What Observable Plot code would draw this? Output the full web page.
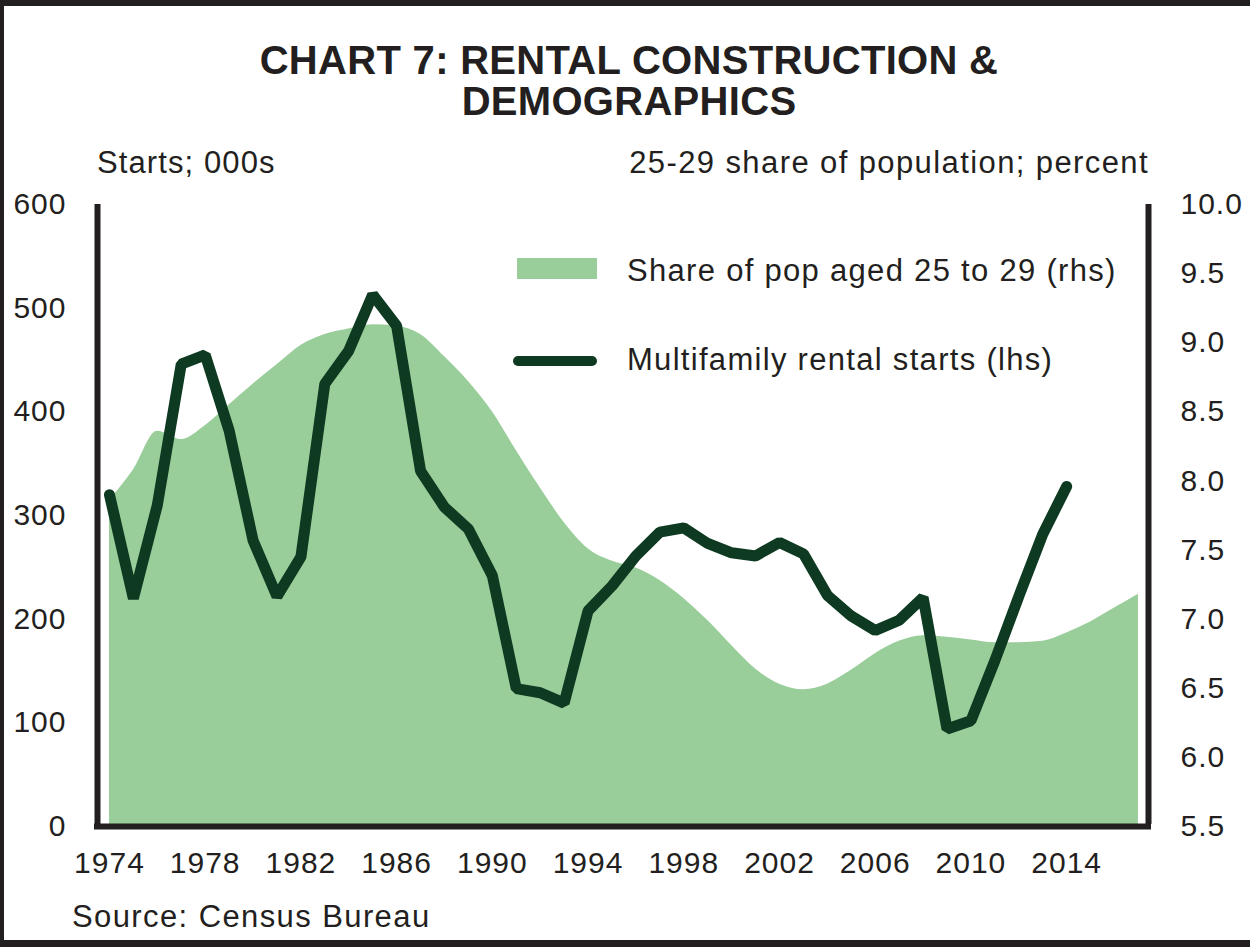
<!DOCTYPE html>
<html>
<head>
<meta charset="utf-8">
<script src="https://cdn.jsdelivr.net/npm/d3@7"></script>
<script src="https://cdn.jsdelivr.net/npm/@observablehq/plot@0.6"></script>
<style>
  html, body { margin: 0; padding: 0; background: #fff; }
  #wrap { position: relative; width: 1250px; height: 947px; box-sizing: border-box;
          border-top: 6px solid #231f20; border-left: 4px solid #231f20; border-bottom: 7px solid #231f20;
          font-family: "Liberation Sans", Arial, sans-serif; color: #231f20; overflow: hidden; }
  #chart { position: absolute; left: -4px; top: -6px; }
  #chart svg text { letter-spacing: 1px; }
  .t { position: absolute; white-space: nowrap; }
  #title { left: 0; width: 1250px; top: 34px; text-align: center; font-weight: bold; font-size: 40px; line-height: 41px; letter-spacing: 0.3px; }
  #lt { left: 93px; top: 139px; font-size: 31px; letter-spacing: 1.1px; }
  #rt { right: 101px; top: 139px; font-size: 31px; letter-spacing: 1.4px; }
  #src { left: 68px; top: 893px; font-size: 31px; letter-spacing: 1.4px; }
  .lg { position: absolute; font-size: 31px; white-space: nowrap; letter-spacing: 1.3px; }
</style>
</head>
<body>
<div id="wrap">
  <div id="title" class="t">CHART 7: RENTAL CONSTRUCTION &amp;<br>DEMOGRAPHICS</div>
  <div id="lt" class="t">Starts; 000s</div>
  <div id="rt" class="t">25-29 share of population; percent</div>
  <div id="src" class="t">Source: Census Bureau</div>
  <div id="chart"></div>
  <div class="lg" style="left:513px; top:252px; width:80px; height:21px; background:#99cd9a;"></div>
  <div class="lg" style="left:623px; top:247px;">Share of pop aged 25 to 29 (rhs)</div>
  <div class="lg" style="left:509px; top:350px; width:84px; height:10px; border-radius:5px; background:#0d3a20;"></div>
  <div class="lg" style="left:623px; top:336px;">Multifamily rental starts (lhs)</div>
</div>
<script>
const startYears = d3.range(1974, 2015);
const starts = [320, 220, 310, 446, 455, 382, 276, 222, 260, 427, 459, 513, 483,
  343, 308, 287, 242, 133, 129, 119, 208, 232, 261, 284, 288, 273, 264, 261, 274,
  263, 223, 203, 189, 199, 221, 94, 102, 160, 222, 282, 328];

const shareYears = d3.range(1974, 2018);
const share = [7.86, 8.08, 8.36, 8.30, 8.40, 8.55, 8.70, 8.84, 8.98, 9.06, 9.10, 9.13,
  9.12, 9.06, 8.90, 8.72, 8.50, 8.22, 7.95, 7.70, 7.51, 7.42, 7.37, 7.28, 7.15, 6.99,
  6.81, 6.64, 6.53, 6.49, 6.53, 6.63, 6.75, 6.84, 6.88, 6.87, 6.85, 6.83, 6.83, 6.84,
  6.90, 6.98, 7.08, 7.18];

const xTicks = d3.range(1974, 2015, 4);
const leftTicks = [0, 100, 200, 300, 400, 500, 600];
const rightTicks = [5.5, 6.0, 6.5, 7.0, 7.5, 8.0, 8.5, 9.0, 9.5, 10.0];

const rMin = 5.5, rMax = 10.0, lMax = 600;
const toLeft = v => (v - rMin) * lMax / (rMax - rMin);
const toRight = v => rMin + v * (rMax - rMin) / lMax;

const startData = startYears.map((y, i) => ({year: y, value: starts[i]}));
const shareData = shareYears.map((y, i) => ({year: y, value: toLeft(share[i])}));

const xDomain = [1973.5, 2017.42];

const plot = Plot.plot({
  width: 1250,
  height: 947,
  marginLeft: 97,
  marginRight: 102,
  marginTop: 204,
  marginBottom: 121,
  style: {fontFamily: "'Liberation Sans', Arial, sans-serif", fontSize: "30px", color: "#231f20", background: "transparent"},
  x: {domain: xDomain},
  y: {domain: [0, lMax]},
  marks: [
    Plot.areaY(shareData, {x: "year", y: "value", fill: "#99cd9a", curve: "monotone-x"}),
    Plot.line(startData, {x: "year", y: "value", stroke: "#0d3a20", strokeWidth: 11, strokeLinejoin: "miter"}),
    Plot.ruleX(xDomain, {stroke: "#231f20", strokeWidth: 6, y1: 0, y2: lMax, insetTop: -2}),
    Plot.ruleY([0], {stroke: "#231f20", strokeWidth: 6, insetLeft: -3, insetRight: -3}),
    Plot.axisX({ticks: xTicks, tickFormat: d => String(d), tickSize: 0, tickPadding: 25, fontSize: 30, label: null}),
    Plot.axisY({anchor: "left", ticks: leftTicks, tickSize: 0, tickPadding: 31, fontSize: 30, label: null}),
    Plot.axisY({anchor: "right", ticks: rightTicks.map(toLeft), tickFormat: d => toRight(d).toFixed(1), tickSize: 0, tickPadding: 32, fontSize: 30, label: null})
  ]
});
document.getElementById("chart").appendChild(plot);
</script>
</body>
</html>
